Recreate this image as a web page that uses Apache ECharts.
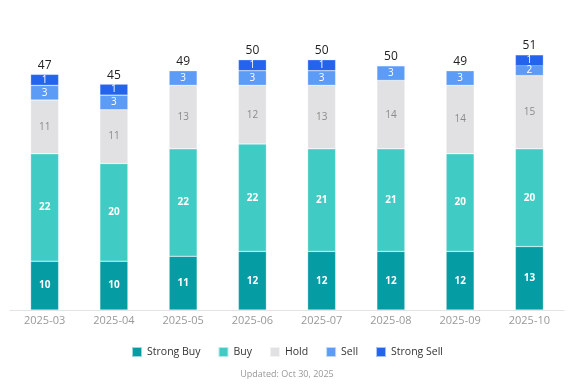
<!DOCTYPE html>
<html><head><meta charset="utf-8">
<script src="https://cdn.jsdelivr.net/npm/echarts@6/dist/echarts.min.js"></script>
<style>html,body{margin:0;padding:0;background:#fff}#c{width:574px;height:387px}</style>
</head><body><div id="c"></div>
<script>
const categories = ['2025-03','2025-04','2025-05','2025-06','2025-07','2025-08','2025-09','2025-10'];
const strongBuy = [10,10,11,12,12,12,12,13];
const buy = [22,20,22,22,21,21,20,20];
const hold = [11,11,13,12,13,14,14,15];
const sell = [3,3,3,3,3,3,3,2];
const strongSell = [1,1,0,1,1,0,0,1];
const seriesNames = ['Strong Buy','Buy','Hold','Sell','Strong Sell'];
const colors = ['#069ca3','#40ccc4','#e1e1e3','#5c9cf7','#2463ec'];
const labelColors = ['#fff','#fff','#8a8a8a','#fff','#fff'];
const values = [strongBuy, buy, hold, sell, strongSell];
const totals = categories.map((_, i) => values.reduce((s, a) => s + a[i], 0));
const font = '"Open Sans", "Noto Sans", sans-serif';
const MIN_H = 11;

const chart = echarts.init(document.getElementById('c'));
const series = seriesNames.map((n, k) => ({
  name: n, type: 'bar', stack: 'a', barWidth: 28,
  barMinHeight: k >= 3 ? MIN_H : 0,
  data: values[k].map(v => v === 0 ? null : v),
  itemStyle: { color: colors[k], borderColor: 'rgba(255,255,255,0.6)', borderWidth: 0.5 },
  label: { show: true, position: 'inside', color: labelColors[k], fontSize: 10,
    fontWeight: k < 2 ? 'bold' : 'normal', fontFamily: font }
}));
series.push({
  name: 'total', type: 'bar', stack: 'a', barWidth: 28,
  data: totals.map(() => 0),
  itemStyle: { color: 'transparent' },
  label: { show: true, position: 'top', distance: 3, color: '#222', fontSize: 12, fontFamily: font,
    formatter: p => totals[p.dataIndex] }
});
const option = {
  animation: false,
  color: colors,
  grid: { left: 10, right: 10, top: 17, bottom: 77, containLabel: false },
  xAxis: { type: 'category', data: categories,
    axisLine: { lineStyle: { color: '#e3e3e3' } }, axisTick: { show: false },
    axisLabel: { color: '#999', fontSize: 11, fontFamily: font, margin: 5 } },
  yAxis: { type: 'value', min: 0, max: 60, show: false, splitLine: { show: false } },
  legend: { data: seriesNames, bottom: 24, itemWidth: 10, itemHeight: 10, itemGap: 17,
    icon: 'rect', textStyle: { color: '#333', fontSize: 10.5, fontFamily: font } },
  graphic: [{ type: 'text', left: 'center', top: 370,
    style: { text: 'Updated: Oct 30, 2025', fill: '#999', fontSize: 9, fontFamily: font } }],
  series
};
chart.setOption(option);
// lift total labels above any bar extended by the minimum height
const pxPerUnit = chart.convertToPixel({ yAxisIndex: 0 }, 0) - chart.convertToPixel({ yAxisIndex: 0 }, 1);
const totalSeries = option.series[option.series.length - 1];
totalSeries.data = totals.map((t, i) => {
  const ss = strongSell[i];
  const ext = ss > 0 ? Math.max(0, MIN_H - ss * pxPerUnit) : 0;
  return { value: 0, label: { distance: 3 + ext } };
});
chart.setOption(option);
</script></body></html>
